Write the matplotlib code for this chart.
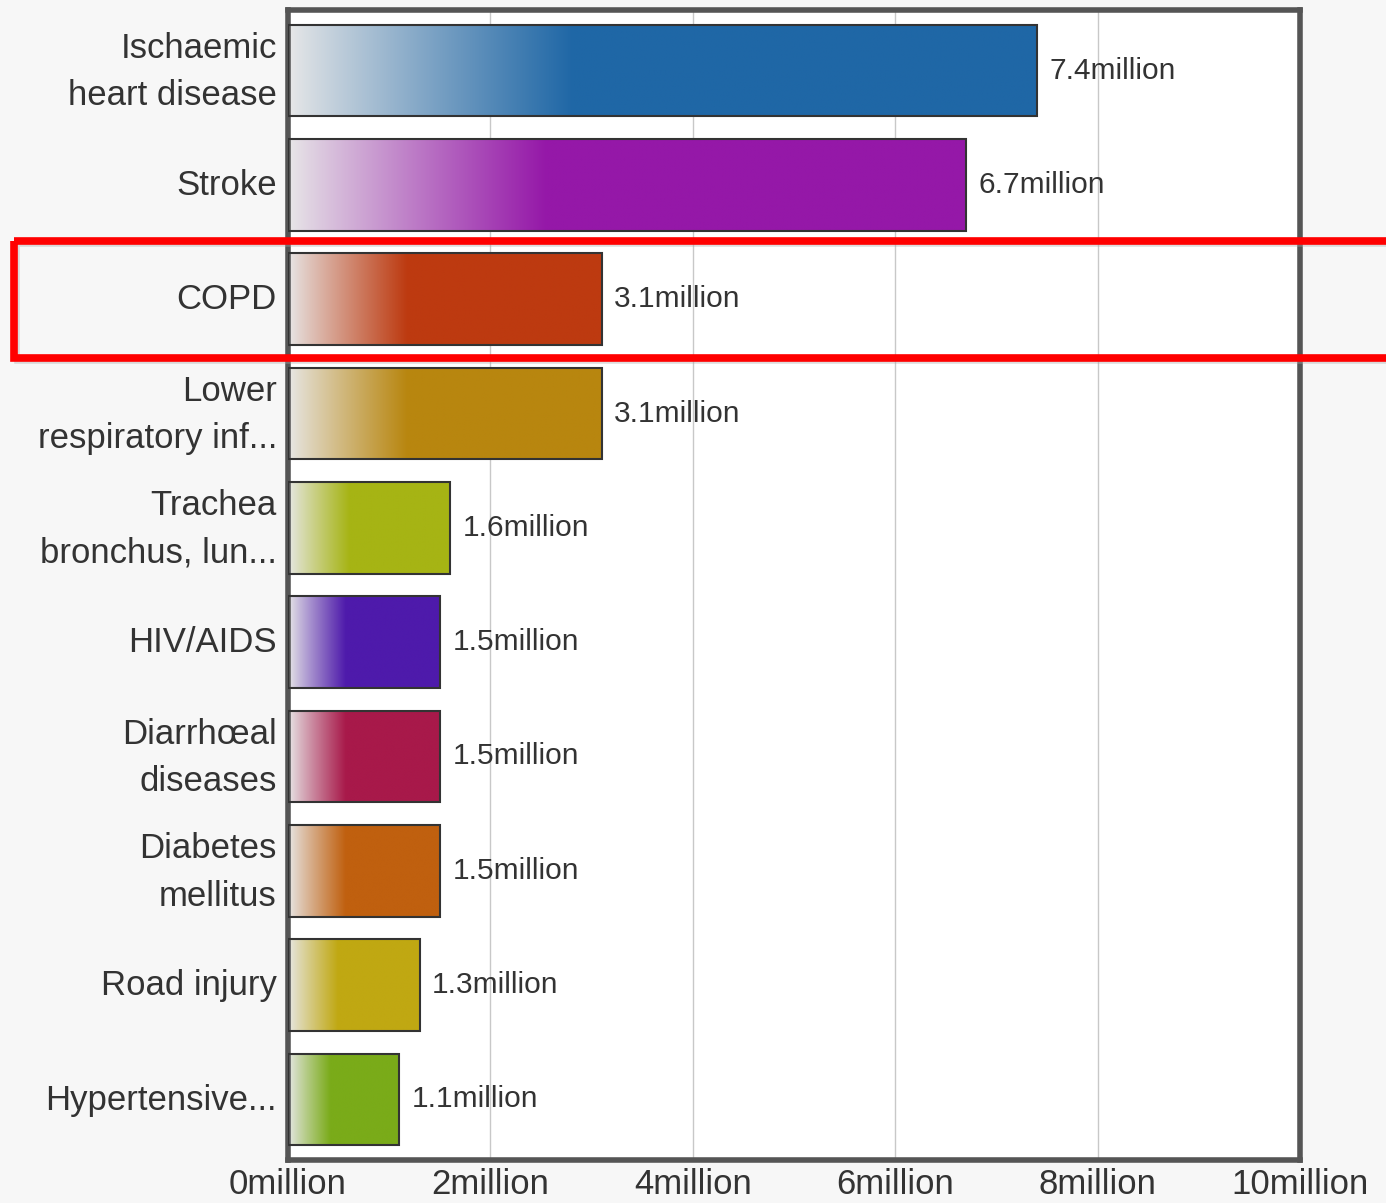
import matplotlib.pyplot as plt
import matplotlib.transforms as mtransforms
from matplotlib.patches import Rectangle
import numpy as np

causes = ["Ischaemic\nheart disease", "Stroke", "COPD", "Lower\nrespiratory inf...",
          "Trachea\nbronchus, lun...", "HIV/AIDS", "Diarrhœal\ndiseases",
          "Diabetes\nmellitus", "Road injury", "Hypertensive..."]
deaths = [7.4, 6.7, 3.1, 3.1, 1.6, 1.5, 1.5, 1.5, 1.3, 1.1]  # million
colors = ["#1f67a6", "#9518a8", "#bd3a10", "#b8860f", "#a6b414",
          "#4e1aab", "#a8194a", "#c0600f", "#c0a812", "#7aab19"]
xticks = [0, 2, 4, 6, 8, 10]
highlight = "COPD"

plt.rcParams['font.family'] = ['Liberation Sans', 'DejaVu Sans']

fig = plt.figure(figsize=(13.86, 12.03), dpi=100, facecolor="#f7f7f7")
ax = fig.add_axes([288 / 1386, 43 / 1203, 1012 / 1386, 1150 / 1203])
ax.set_facecolor("white")

h = 0.8
start = np.array([0.91, 0.91, 0.91])
for i, (v, c) in enumerate(zip(deaths, colors)):
    rgb = np.array(plt.matplotlib.colors.to_rgb(c))
    t = np.linspace(0, 1, 300)
    f = np.clip(t / 0.38, 0, 1) ** 0.9
    img = start[None, :] * (1 - f[:, None]) + rgb[None, :] * f[:, None]
    ax.imshow(img[None, :, :], extent=(0, v, i + h / 2, i - h / 2),
              aspect='auto', interpolation='bilinear', zorder=2)
    ax.barh(i, v, height=h, fill=False, edgecolor="#333333", linewidth=1.5, zorder=3)
    ax.annotate(f"{v}million", xy=(v, i), xytext=(9, 0), textcoords="offset points",
                va="center", ha="left", fontsize=21.5, color="#333333", zorder=4)

ax.set_xlim(0, 10)
ax.set_ylim(len(causes) - 0.47, -0.53)
ax.set_yticks(range(len(causes)))
ax.set_yticklabels(causes, fontsize=25, color="#333333", linespacing=1.55)
ax.set_xticks(xticks)
ax.set_xticklabels([f"{x}million" for x in xticks], fontsize=25, color="#333333")
ax.tick_params(length=0)
ax.tick_params(axis='y', pad=8)
ax.tick_params(axis='x', pad=6)
ax.grid(axis='x', color="#c8c8c8", linewidth=1)
ax.set_axisbelow(True)
for s in ax.spines.values():
    s.set_color("#555555")
    s.set_linewidth(4)

# nudge labels up a little, two-line ones a bit more
for lab in ax.get_yticklabels():
    dy = 6.5 if "\n" in lab.get_text() else 2
    lab.set_transform(lab.get_transform() +
                      mtransforms.ScaledTranslation(0, dy / 72, fig.dpi_scale_trans))

# red highlight box around the COPD row
k = causes.index(highlight)
trans = mtransforms.blended_transform_factory(fig.transFigure, ax.transData)
ax.add_patch(Rectangle((14 / 1386 + 0.002, k - 0.51 + 0.03), 1.1, 1.02, transform=trans,
                       fill=False, edgecolor="#aaaaaa", linewidth=4, alpha=0.4,
                       clip_on=False, zorder=5))
ax.add_patch(Rectangle((14 / 1386, k - 0.51), 1.1, 1.02, transform=trans,
                       fill=False, edgecolor="#ff0000", linewidth=5.5,
                       clip_on=False, zorder=6))

fig.savefig("out.png", dpi=100, facecolor=fig.get_facecolor())
